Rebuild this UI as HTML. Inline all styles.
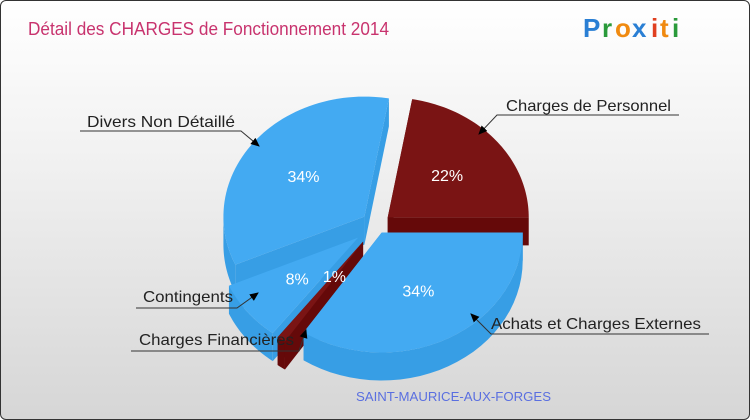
<!DOCTYPE html>
<html><head><meta charset="utf-8"><style>
html,body{margin:0;padding:0;}
body{width:750px;height:420px;overflow:hidden;font-family:"Liberation Sans",sans-serif;}
#wrap{position:absolute;left:0;top:0;width:748px;height:418px;border:1px solid #333;border-radius:6px;background:linear-gradient(#ffffff 0%,#f2f2f2 35%,#d6d6d6 100%);overflow:hidden;}
svg{position:absolute;left:0;top:0;}
</style></head><body>
<div id="wrap">
<svg id="chart" width="750" height="420">
<text x="27" y="34" font-size="18" fill="#c8336e" textLength="361" lengthAdjust="spacingAndGlyphs">Détail des CHARGES de Fonctionnement 2014</text>
<g font-family="'Liberation Sans',sans-serif" font-size="26" font-weight="bold">
<text x="582" y="36" fill="#2a7fd4">P</text><text x="601" y="36" fill="#2a9a3a">r</text><text x="614" y="36" fill="#f08a10">o</text><text x="631" y="36" fill="#2a7fd4">x</text><text x="650" y="36" fill="#e04020">i</text><text x="659" y="36" fill="#f08a10">t</text><text x="671" y="36" fill="#2a9a3a">i</text>
</g>
<g id="slices"></g>
<g id="labels"></g>
<text x="355" y="400" font-size="13" fill="#5a6fe0" textLength="195" lengthAdjust="spacingAndGlyphs">SAINT-MAURICE-AUX-FORGES</text>
</svg>
</div>
<script>
const categories = ["Charges de Personnel","Achats et Charges Externes","Charges Financières","Contingents","Divers Non Détaillé"];
const values = [22,34,1,8,34];
const pctLabels = ["22%","34%","1%","8%","34%"];
const NS="http://www.w3.org/2000/svg";
const cx=376, cy=224, rx=141, ry=120, depth=28, startDeg=-80;
const explode=[14,10,24,24,16];
const colors=[["#7a1414","#650909"],["#43aaf2","#379ee5"],["#7a1414","#650909"],["#43aaf2","#379ee5"],["#43aaf2","#379ee5"]];
const total=values.reduce((a,b)=>a+b,0);
function mk(tag,attrs){const e=document.createElementNS(NS,tag);for(const k in attrs)e.setAttribute(k,attrs[k]);return e;}
function pt(ox,oy,a,dz){return [ox+rx*Math.cos(a), oy+ry*Math.sin(a)+(dz||0)];}
const g=document.getElementById('slices');
let acc=startDeg*Math.PI/180;
const sl=[];
values.forEach((v,i)=>{const a0=acc,a1=acc+v/total*2*Math.PI;acc=a1;const m=(a0+a1)/2;
 sl.push({i,a0,a1,m,ox:cx+explode[i]*Math.cos(m),oy:cy+explode[i]*Math.sin(m)*ry/rx});});
const order=sl.slice().sort((a,b)=>Math.sin(a.m)-Math.sin(b.m));
order.forEach(s=>{
 const grp=mk('g',{});
 
 
 const [c0,c1]=colors[s.i];
 [s.a0,s.a1].forEach(a=>{const p=pt(s.ox,s.oy,a);
  grp.appendChild(mk('path',{d:`M${s.ox},${s.oy}L${p[0]},${p[1]}L${p[0]},${p[1]+depth}L${s.ox},${s.oy+depth}Z`,fill:c1}));});
 const f0=Math.max(s.a0,0), f1=Math.min(s.a1,Math.PI);
 const ranges=[[f0,f1],[Math.max(s.a0,2*Math.PI),Math.min(s.a1,3*Math.PI)]];
 ranges.forEach(([b0,b1])=>{ if(b1<=b0)return; let d='';const N=30;
  for(let k=0;k<=N;k++){const p=pt(s.ox,s.oy,b0+(b1-b0)*k/N);d+=(k?'L':'M')+p[0]+','+p[1];}
  for(let k=N;k>=0;k--){const p=pt(s.ox,s.oy,b0+(b1-b0)*k/N,depth);d+='L'+p[0]+','+p[1];}
  grp.appendChild(mk('path',{d:d+'Z',fill:c1}));});
 let d=`M${s.ox},${s.oy}`;const N=60;
 for(let k=0;k<=N;k++){const p=pt(s.ox,s.oy,s.a0+(s.a1-s.a0)*k/N);d+='L'+p[0]+','+p[1];}
 grp.appendChild(mk('path',{d:d+'Z',fill:c0}));
 g.appendChild(grp);
});
sl.forEach(s=>{const r=s.i===2?0.35:0.55;const p=[s.ox+rx*r*Math.cos(s.m),s.oy+ry*r*Math.sin(s.m)];
 const t=mk('text',{x:p[0],y:p[1]+6,'text-anchor':'middle','font-size':'16',fill:'#fff'});
 
 
 t.textContent=pctLabels[s.i];g.appendChild(t);});
const lg=document.getElementById('labels');
lg.appendChild(mk('defs',{})).innerHTML='<marker id="ar" markerWidth="10" markerHeight="10" refX="8" refY="4" orient="auto" markerUnits="userSpaceOnUse"><path d="M0,0L9,4L0,8Z" fill="#000"/></marker>';
const lab=[
 {t:categories[0],x:505,y:110,w:165,line:"M678,114L496,114L478,133"},
 {t:categories[1],x:490,y:328,w:210,line:"M708,333L490,333L470,313"},
 {t:categories[2],x:138,y:344,w:155,line:"M130,350L298,350L305,329"},
 {t:categories[3],x:142,y:301,w:90,line:"M135,307L236,307L257,292"},
 {t:categories[4],x:86,y:126,w:148,line:"M79,130L240,130L258,145"}];
lab.forEach(l=>{const gg=mk('g',{});
 
 
 gg.appendChild(mk('path',{d:l.line,stroke:'#333',fill:'none','stroke-width':'1','marker-end':'url(#ar)'}));
 const t=mk('text',{x:l.x,y:l.y,'font-size':'16',fill:'#222',textLength:l.w,lengthAdjust:'spacingAndGlyphs'});
 t.textContent=l.t;gg.appendChild(t);lg.appendChild(gg);});
</script>
</body></html>
